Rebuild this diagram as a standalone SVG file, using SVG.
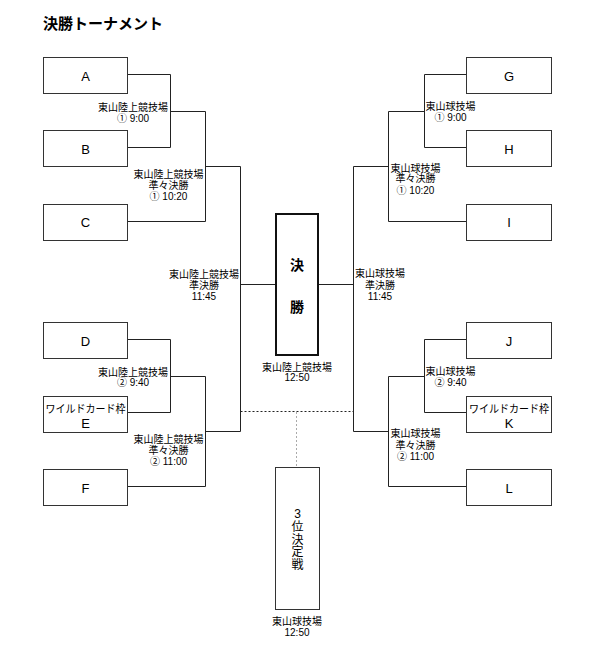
<svg xmlns="http://www.w3.org/2000/svg" width="595" height="647" viewBox="0 0 595 647">
<style>
.box{fill:#fff;stroke:#333;stroke-width:1}
.conn{fill:none;stroke:#222;stroke-width:1}
text{font-family:"Liberation Sans","Noto Sans CJK JP",sans-serif;fill:#000;text-anchor:middle}
.c{font-family:"Noto Sans CJK JP",sans-serif}
.lbl{font-size:10px}
.nm{font-size:13px}
.wc{font-size:11px}
.fin{font-size:14px;font-weight:bold}
.v{font-size:12px}
</style>
<rect width="595" height="647" fill="#fff"/>
<text x="43" y="29" style="font-size:15px;font-weight:bold;text-anchor:start">決勝トーナメント</text>

<g id="connectors">
<path class="conn" d="M127.5,74.5 H170.5 V147.5 H127.5"/>
<path class="conn" d="M170.5,111.5 H205.5 V221.5 H127.5"/>
<path class="conn" d="M205.5,166.5 H240.5 V431.5 H205.5"/>
<path class="conn" d="M127.5,339.5 H170.5 V412.5 H127.5"/>
<path class="conn" d="M170.5,376.5 H205.5 V486.5 H127.5"/>
<path class="conn" d="M240.5,284.5 H276"/>
<path class="conn" d="M466.5,74.5 H424.5 V147.5 H466.5"/>
<path class="conn" d="M424.5,111.5 H388.5 V221.5 H466.5"/>
<path class="conn" d="M388.5,166.5 H353.5 V431.5 H388.5"/>
<path class="conn" d="M466.5,339.5 H424.5 V412.5 H466.5"/>
<path class="conn" d="M424.5,376.5 H388.5 V486.5 H466.5"/>
<path class="conn" d="M353.5,284.5 H318"/>
<path class="conn" d="M240.5,411.5 H353.5" stroke-dasharray="2,2"/>
<path class="conn" d="M296.5,412 V467.5" stroke-dasharray="2,2" style="stroke:#aaa"/>
</g>

<g id="A"><rect class="box" x="43.5" y="57.5" width="84" height="36"/><text class="nm" x="85.5" y="80.5">A</text></g>
<g id="B"><rect class="box" x="43.5" y="130.5" width="84" height="36"/><text class="nm" x="85.5" y="153.5">B</text></g>
<g id="C"><rect class="box" x="43.5" y="204.5" width="84" height="36"/><text class="nm" x="85.5" y="227">C</text></g>
<g id="D"><rect class="box" x="43.5" y="322.5" width="84" height="36"/><text class="nm" x="85.5" y="345.5">D</text></g>
<g id="E"><rect class="box" x="43.5" y="396.5" width="84" height="36"/><text class="wc" x="85.5" y="412.5" textLength="80" lengthAdjust="spacingAndGlyphs">ワイルドカード枠</text><text class="nm" x="85.5" y="427.5">E</text></g>
<g id="F"><rect class="box" x="43.5" y="469.5" width="84" height="36"/><text class="nm" x="85.5" y="492.5">F</text></g>

<g id="G"><rect class="box" x="466.5" y="57.5" width="85" height="36"/><text class="nm" x="509" y="80.5">G</text></g>
<g id="H"><rect class="box" x="466.5" y="130.5" width="85" height="36"/><text class="nm" x="509" y="153.5">H</text></g>
<g id="I"><rect class="box" x="466.5" y="204.5" width="85" height="36"/><text class="nm" x="509" y="227">I</text></g>
<g id="J"><rect class="box" x="466.5" y="322.5" width="85" height="36"/><text class="nm" x="509" y="345.5">J</text></g>
<g id="K"><rect class="box" x="466.5" y="396.5" width="85" height="36"/><text class="wc" x="509" y="412.5" textLength="80" lengthAdjust="spacingAndGlyphs">ワイルドカード枠</text><text class="nm" x="509" y="427.5">K</text></g>
<g id="L"><rect class="box" x="466.5" y="469.5" width="85" height="36"/><text class="nm" x="509" y="492.5">L</text></g>

<g id="final"><rect x="276" y="214" width="42" height="141" fill="#fff" stroke="#111" stroke-width="2"/>
<text class="fin" x="297" y="270">決</text><text class="fin" x="297" y="312">勝</text></g>

<g id="third"><rect class="box" x="275.5" y="467.5" width="44" height="142"/>
<text class="v" x="297.5" y="517.5">3</text><text class="v" x="297.5" y="531">位</text><text class="v" x="297.5" y="543.5">決</text><text class="v" x="297.5" y="556">定</text><text class="v" x="297.5" y="568.5">戦</text></g>

<g id="labels">
<text class="lbl" x="133" y="110.5">東山陸上競技場</text><text class="lbl" x="133" y="121.5"><tspan class="c">①</tspan> 9:00</text>
<text class="lbl" x="168.5" y="177.7">東山陸上競技場</text><text class="lbl" x="168.5" y="188.7">準々決勝</text><text class="lbl" x="168.5" y="199.7"><tspan class="c">①</tspan> 10:20</text>
<text class="lbl" x="204" y="277.7">東山陸上競技場</text><text class="lbl" x="204" y="288.7">準決勝</text><text class="lbl" x="204" y="299.7">11:45</text>
<text class="lbl" x="133" y="375.5">東山陸上競技場</text><text class="lbl" x="133" y="385.5"><tspan class="c">②</tspan> 9:40</text>
<text class="lbl" x="168.5" y="442.7">東山陸上競技場</text><text class="lbl" x="168.5" y="453.7">準々決勝</text><text class="lbl" x="168.5" y="465"><tspan class="c">②</tspan> 11:00</text>
<text class="lbl" x="450.5" y="109.5">東山球技場</text><text class="lbl" x="450.5" y="120.5"><tspan class="c">①</tspan> 9:00</text>
<text class="lbl" x="415.5" y="171.5">東山球技場</text><text class="lbl" x="415.5" y="182">準々決勝</text><text class="lbl" x="415.5" y="193.5"><tspan class="c">①</tspan> 10:20</text>
<text class="lbl" x="380" y="277">東山球技場</text><text class="lbl" x="380" y="288.7">準決勝</text><text class="lbl" x="380" y="300">11:45</text>
<text class="lbl" x="450.5" y="374.8">東山球技場</text><text class="lbl" x="450.5" y="385.5"><tspan class="c">②</tspan> 9:40</text>
<text class="lbl" x="415.5" y="437">東山球技場</text><text class="lbl" x="415.5" y="448.7">準々決勝</text><text class="lbl" x="415.5" y="459.7"><tspan class="c">②</tspan> 11:00</text>
<text class="lbl" x="297" y="370.5">東山陸上競技場</text><text class="lbl" x="297" y="381">12:50</text>
<text class="lbl" x="297" y="625">東山球技場</text><text class="lbl" x="297" y="635.5">12:50</text>
</g>
</svg>
